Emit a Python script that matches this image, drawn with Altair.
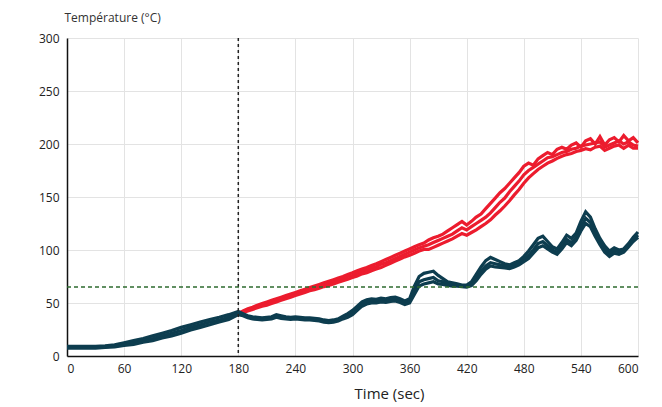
import altair as alt
import pandas as pd

# time grids (seconds)
teal_t = [0, 10, 20, 30, 40, 50, 60, 70, 80, 90, 100, 110, 120, 130, 140, 150, 160, 170] + list(range(180, 601, 5))
red_t = list(range(180, 601, 5))

teal_a = [9, 9, 9, 9, 9.5, 10.5, 12.5, 14.5, 16.5, 19, 21.5, 24, 27, 29.5, 32, 34.5, 36.5, 39,
          42, 40, 38, 37, 36.5, 36, 36.5, 37, 39, 38, 37, 36.5, 37, 36.5, 36, 36, 35.5, 35, 34, 33.5,
          34, 35, 37.5, 40, 43, 47, 51, 53, 54, 53.5, 54.5, 54, 55, 55.5, 54, 52, 54, 66, 75, 78, 79,
          80, 76, 73, 70, 69, 68, 67, 67, 70, 77, 84, 90, 93, 91, 89, 87, 86, 88, 90, 94, 99, 105,
          111, 113, 108, 103, 101, 107, 114, 111, 116, 127, 136, 131, 120, 111, 104, 99, 102, 100,
          101, 106, 112, 117]
teal_b = [8, 8, 8, 8, 8.5, 9.5, 11, 12.5, 14.5, 16.5, 19, 21.5, 24, 27, 29.5, 32, 34, 36.5,
          40, 39, 37, 36, 35.5, 35, 35.5, 36, 37.5, 36.5, 36, 35.5, 36, 35.5, 35, 35, 34.5, 34, 33,
          32.5, 33, 34, 36, 38, 41, 45, 49, 51, 52, 51.5, 52.5, 52, 53, 53.5, 52, 50, 52, 62, 70, 72,
          73, 74, 71, 70, 68, 67, 67, 66, 66, 68, 74, 80, 85, 88, 87, 86, 85, 84, 86, 88, 91, 95, 100,
          106, 108, 104, 100, 98, 104, 110, 107, 112, 122, 130, 126, 116, 108, 101, 96, 100, 98,
          100, 105, 110, 114]
teal_c = [7.5, 7.5, 7.5, 7.5, 8, 8.5, 10, 11, 13, 14.5, 17, 19, 21.5, 24.5, 27, 29.5, 32, 34.5,
          39, 38, 36, 35, 34.5, 34, 34.5, 35, 36.5, 35.5, 35, 34.5, 35, 34.5, 34, 34, 33.5, 33, 32,
          31.5, 32, 33, 35, 36.5, 39, 43, 47, 49, 50, 50, 51, 50.5, 51.5, 52, 50.5, 48.5, 50, 58, 66,
          68, 69, 70, 68, 67.5, 66.5, 66, 66, 65.5, 65, 66.5, 71, 77, 82, 85, 84, 83.5, 83, 82.5, 84,
          86, 89, 92, 97, 102, 104, 101, 98, 96, 101, 107, 104, 109, 118, 125, 122, 113, 105, 98,
          94, 97, 96, 98, 103, 108, 112]

red_a = [40, 42.5, 44.5, 46, 48, 49.5, 51, 52.5, 54, 55.5, 57, 58.5, 60, 61.5, 63, 64.5, 66, 67.5,
         69, 70.5, 72, 73.5, 75, 77, 78.5, 80.5, 82, 83.5, 85.5, 87, 89, 91, 93, 95, 97, 99, 101, 103,
         105, 106.5, 109.5, 111.5, 113, 115, 118, 121, 124, 127, 123.5, 127, 131, 134, 139, 144, 149,
         154, 158, 163, 168, 173, 179, 182, 180, 186, 189, 192, 190, 195, 197, 195, 199, 201, 197,
         203, 205, 200, 207, 199, 204, 206, 202, 208, 203, 206, 201]
red_b = [40, 42, 43.5, 45, 46.5, 48, 49.5, 51, 52.5, 54, 55.5, 57, 58.5, 60, 61.5, 63, 64.5, 66,
         67, 68.5, 70, 71.5, 73, 75, 76, 78, 80, 81, 83, 84.5, 86.5, 88, 90, 92, 94, 96, 98, 100,
         102, 103.5, 105, 107, 109, 111, 113, 115, 118, 121, 119, 122, 125, 128, 131, 135, 140,
         145, 149, 155, 160, 165, 171, 175, 178, 181, 184, 187, 188, 190, 192, 193, 195, 196, 198,
         199, 200, 201, 202, 197, 199, 201, 203, 200, 202, 199, 198]
red_c = [40, 41, 42.5, 44, 45.5, 47, 48, 49.5, 51, 52.5, 54, 55.5, 57, 58.5, 60, 61.5, 62.5, 64,
         65.5, 66.5, 68, 69.5, 71, 72.5, 74, 75.5, 77.5, 78.5, 80.5, 82, 83.5, 85.5, 87.5, 89.5, 91.5,
         93.5, 95, 97, 99, 100.5, 100.5, 102.5, 104.5, 106.5, 108.5, 110.5, 113, 115.5, 114, 116.5,
         119, 122, 125, 128.5, 133, 137, 141.5, 146.5, 152, 157, 163, 168, 172, 176, 179, 182, 184,
         186.5, 188.5, 190, 191, 193, 194, 195.5, 194.5, 197, 198, 194, 196, 198, 199, 196, 199, 196,
         196]

x_ticks = [0, 60, 120, 180, 240, 300, 360, 420, 480, 540, 600]
y_ticks = [0, 50, 100, 150, 200, 250, 300]
v_line = [180]
h_line = [65]

rows = []
for name, grp, ts, vs in [("Ra", "red", red_t, red_a), ("Rb", "red", red_t, red_b), ("Rc", "red", red_t, red_c),
                          ("Ta", "teal", teal_t, teal_a), ("Tb", "teal", teal_t, teal_b), ("Tc", "teal", teal_t, teal_c)]:
    for t, v in zip(ts, vs):
        rows.append({"series": name, "group": grp, "t": t, "v": v})
df = pd.DataFrame(rows)

FONT = "Open Sans"

x_enc = alt.X("t:Q", scale=alt.Scale(domain=[0, 600], nice=False),
              axis=alt.Axis(values=x_ticks, title="Time (sec)", grid=True, ticks=False,
                            labelPadding=7, titleX=322, titleY=37, titleAlign="center",
                            titleBaseline="middle", titleFontSize=15,
                            titleFontWeight=500, titleColor="#222"))
y_enc = alt.Y("v:Q", scale=alt.Scale(domain=[0, 300], nice=False),
              axis=alt.Axis(values=y_ticks, title="Température (°C)", grid=True, ticks=False,
                            labelPadding=8, titleAngle=0, titleAlign="left", titleBaseline="middle",
                            titleX=-3, titleY=-21, titleFontSize=12, titleFontWeight="normal",
                            titleColor="#333"))

red_lines = alt.Chart(df[df.group == "red"]).mark_line(strokeWidth=3.2, color="#EC1C2E").encode(
    x=x_enc, y=y_enc, detail="series:N")
teal_lines = alt.Chart(df[df.group == "teal"]).mark_line(strokeWidth=3.2, color="#0D3D4F").encode(
    x="t:Q", y="v:Q", detail="series:N")

vrule = alt.Chart(pd.DataFrame({"t": v_line})).mark_rule(
    color="#222", strokeDash=[3, 3], strokeWidth=1.5).encode(x="t:Q")
hrule = alt.Chart(pd.DataFrame({"v": h_line})).mark_rule(
    color="#2E6B2F", strokeDash=[4, 3], strokeWidth=1.5).encode(y="v:Q")

chart = alt.layer(red_lines, teal_lines, vrule, hrule).properties(
    width=571, height=318,
    autosize=alt.AutoSizeParams(type="none"),
    padding={"left": 59, "top": 30, "right": 16, "bottom": 50},
).configure_view(stroke=None).configure_axis(
    labelFont=FONT, titleFont=FONT, labelFontSize=12, labelColor="#222",
    gridColor="#E3E3E3", gridWidth=1, domainColor="#111", domainWidth=1.5,
)

chart.save("out.html", embed_options={"renderer": "svg", "actions": False})
